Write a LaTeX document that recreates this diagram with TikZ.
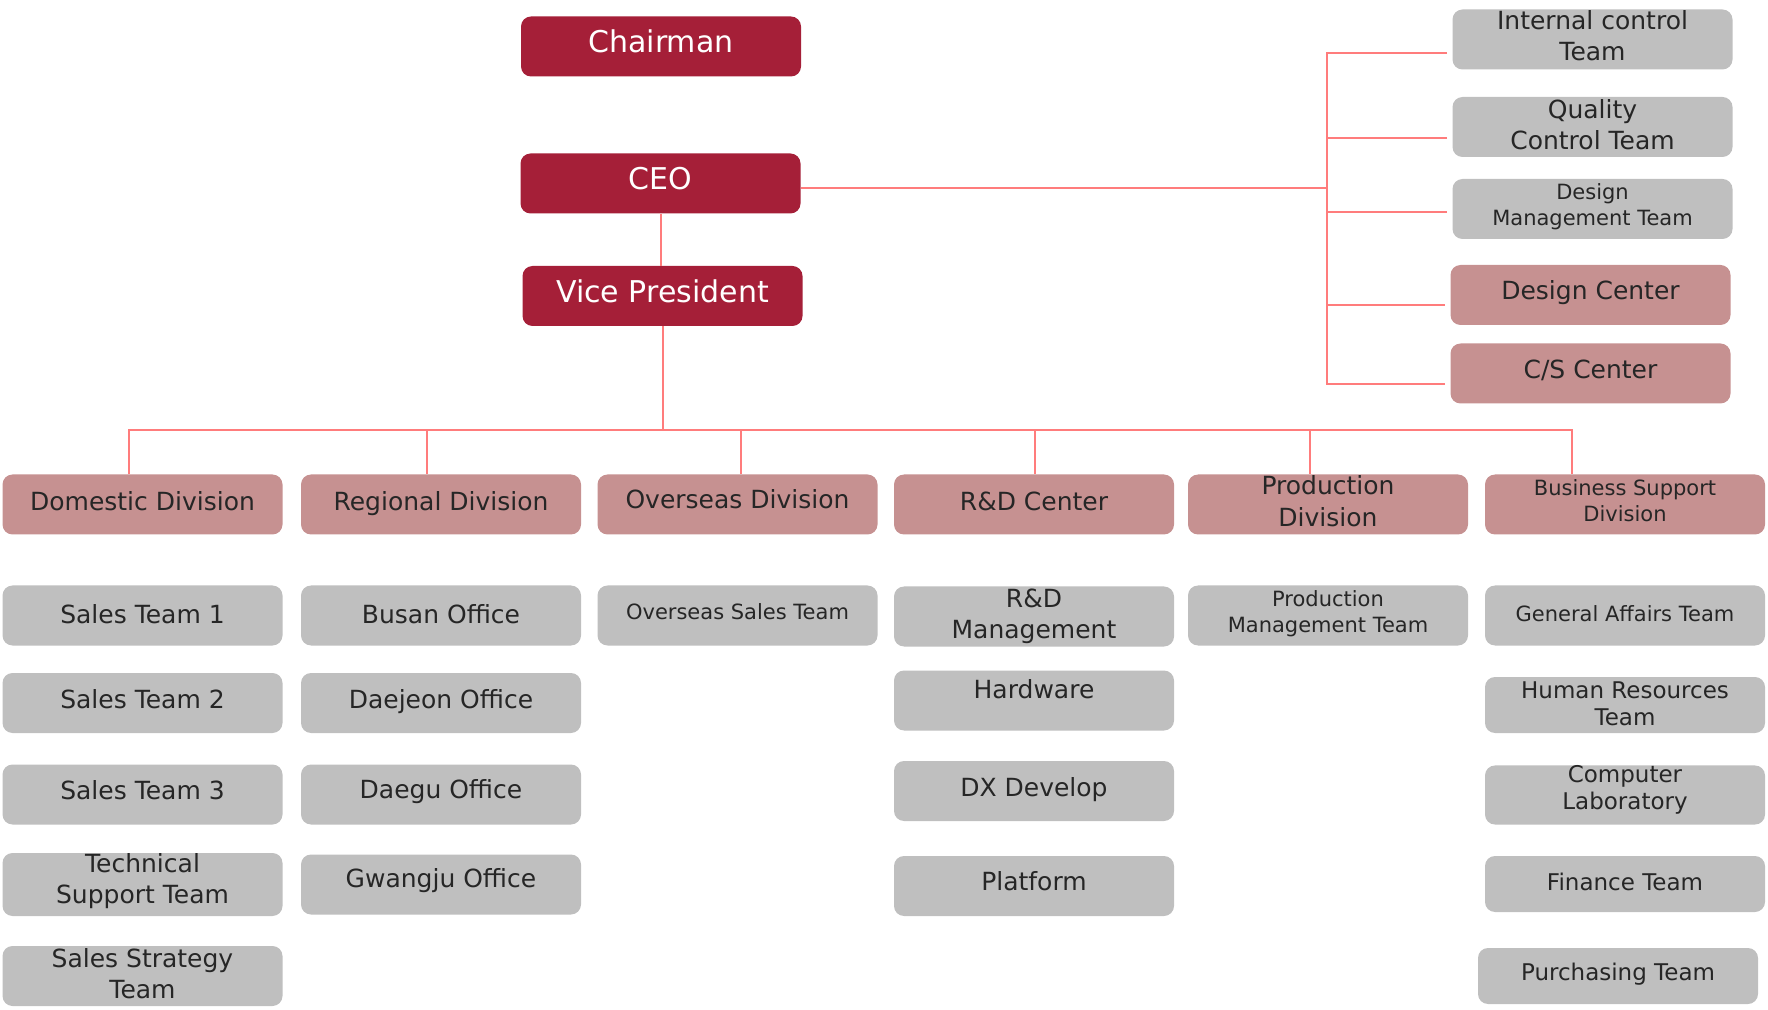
\documentclass[tikz,border=0pt]{standalone}
\usepackage{fontspec}
\setmainfont{DejaVu Sans}
\definecolor{chiefred}{HTML}{A51F38}
\definecolor{divpink}{HTML}{C69191}
\definecolor{teamgray}{HTML}{BFBFBF}
\definecolor{linkred}{HTML}{FF7C7C}
\definecolor{ink}{HTML}{262626}
\tikzset{
  box/.style={rounded corners=5pt, minimum width=140pt, minimum height=30pt, inner sep=0pt, align=center, text=ink, text depth=4pt},
  head/.style={box, fill=chiefred, text=white, text depth=5pt, font=\fontsize{15}{18}\selectfont},
  divbox/.style={box, fill=divpink, text depth=3.5pt, font=\fontsize{12.5}{16}\selectfont},
  teambox/.style={box, fill=teamgray, font=\fontsize{12.5}{15.5}\selectfont},
  smalltxt/.style={font=\fontsize{10.5}{13}\selectfont},
  midtxt/.style={font=\fontsize{11.5}{13.5}\selectfont},
  lift/.style={text depth=#1},
  link/.style={draw=linkred, line width=1pt},
}
\begin{document}
\begin{tikzpicture}[x=0.5pt, y=-0.5pt]
\useasboundingbox (0,0) rectangle (1768,1010);

\node[head] (chair) at (661,46.5) {Chairman};
\node[head] (ceo) at (660.5,183.5) {CEO};
\node[head] (vp) at (662.5,296) {Vice President};

\node[teambox] (ict) at (1592.5,39.5) {Internal control\\Team};
\node[teambox, lift=2.8pt] (qct) at (1592.5,127) {Quality\\Control Team};
\node[teambox, smalltxt, lift=4.8pt] (dmt) at (1592.5,209) {Design\\Management Team};
\node[divbox, lift=5.3pt] (dsc) at (1590.5,295) {Design Center};
\node[divbox, lift=4.5pt] (csc) at (1590.5,373.5) {C/S Center};

\node[divbox] (dom) at (142.5,504.5) {Domestic Division};
\node[divbox] (reg) at (441,504.5) {Regional Division};
\node[divbox, lift=5.5pt] (ovs) at (737.5,504.5) {Overseas Division};
\node[divbox] (rnd) at (1034,504.5) {R\&D Center};
\node[divbox] (prd) at (1328,504.5) {Production\\Division};
\node[divbox, smalltxt] (bsd) at (1625,504.5) {Business Support\\Division};

\node[teambox, lift=1pt] (st1) at (142.5,615.5) {Sales Team 1};
\node[teambox, lift=3.5pt] (st2) at (142.5,703) {Sales Team 2};
\node[teambox, lift=4.5pt] (st3) at (142.5,794.5) {Sales Team 3};
\node[teambox, lift=6.5pt] (tst) at (142.5,884.5) {Technical\\Support Team};
\node[teambox, lift=2.3pt] (sst) at (142.5,976) {Sales Strategy\\Team};

\node[teambox, lift=1pt] (busan) at (441,615.5) {Busan Office};
\node[teambox] (daejeon) at (441,703) {Daejeon Office};
\node[teambox, lift=5.3pt] (daegu) at (441,794.5) {Daegu Office};
\node[teambox, lift=6.5pt] (gwangju) at (441,884.5) {Gwangju Office};

\node[teambox, smalltxt, lift=3.5pt] (ost) at (737.5,615.5) {Overseas Sales Team};

\node[teambox, lift=2.5pt] (rdm) at (1034,616.5) {R\&D\\Management};
\node[teambox, lift=11pt] (hw) at (1034,700.5) {Hardware};
\node[teambox] (dx) at (1034,791) {DX Develop};
\node[teambox, lift=5pt] (plt) at (1034,886) {Platform};

\node[teambox, smalltxt] (pmt) at (1328,615.5) {Production\\Management Team};

\node[teambox, smalltxt, lift=2.3pt] (gat) at (1625,615.5) {General Affairs Team};
\node[teambox, midtxt, lift=1.5pt, minimum height=28pt] (hrt) at (1625,705) {Human Resources\\Team};
\node[teambox, midtxt, lift=7.5pt, minimum height=28pt] (cpl) at (1625,795) {Computer\\Laboratory};
\node[teambox, midtxt, lift=2.3pt, minimum height=28pt] (fin) at (1625,884) {Finance Team};
\node[teambox, midtxt, minimum height=28pt] (pur) at (1618,976) {Purchasing Team};

\coordinate (trunk) at (1327,188);
\coordinate (bus) at (661,430);
\draw[link] (ceo.south) -- (ceo.south |- vp.north);
\draw[link] (ceo.east |- trunk) -- (trunk);
\foreach \n/\dy in {ict/6.75pt, qct/5.5pt, dmt/1.5pt, dsc/5pt, csc/5.25pt}
  \draw[link] ([xshift=-2.5pt, yshift=-\dy]\n.west) -| (trunk);
\draw[link] (vp.south) -- (vp.south |- bus);
\foreach \n/\dx in {dom/-6.75pt, reg/-7pt, ovs/1.75pt, rnd/0.5pt, prd/-9pt, bsd/-26.5pt}
  \draw[link] ([xshift=\dx]\n.north) |- (bus);
\end{tikzpicture}
\end{document}
